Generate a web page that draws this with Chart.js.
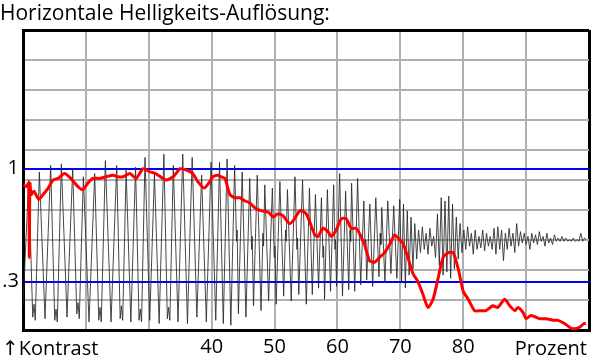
<!DOCTYPE html>
<html>
<head>
<meta charset="utf-8">
<script src="https://cdn.jsdelivr.net/npm/chart.js@4.4.0/dist/chart.umd.min.js"></script>
<style>
    body { margin: 0; background: #fff; }
</style>
</head>
<body>
<canvas id="mtfChart" width="600" height="364"></canvas>
<script>
const chartTitle = 'Horizontale Helligkeits-Auflösung:';
const leftCornerText = '\u2191Kontrast';
const rightCornerText = 'Prozent';
const xTickLabels = [40, 50, 60, 70, 80];
const yTickValues = [0.3, 1];
const yTickLabels = ['.3', '1'];
const xMin = 10, xMax = 100, yMax = 1.86;

const sweepCoarse = [
    [10.0, 0.15], [10.9, 0.93], [11.55, 0.08], [11.75, 0.16], [11.95, 0.06], [12.6, 0.98], [13.5, 0.07],
    [14.4, 1.02], [15.05, 0.06], [15.25, 0.13], [15.45, 0.05], [16.1, 1.03], [17.0, 0.08], [17.9, 1.0],
    [18.55, 0.1], [18.75, 0.17], [18.95, 0.07], [19.6, 0.95], [20.5, 0.05], [21.4, 0.97], [22.05, 0.06],
    [22.25, 0.14], [22.45, 0.05], [23.1, 1.05], [24.0, 0.05], [24.9, 1.02]
];
const sweepMid = [
    [25.45, 0.07], [25.65, 0.15], [25.85, 0.06], [26.4, 0.99], [27.15, 0.05], [27.9, 1.01], [28.45, 0.06],
    [28.65, 0.13], [28.85, 0.05], [29.4, 1.07], [30.15, 0.06], [30.9, 0.97], [31.65, 0.04], [32.4, 1.09],
    [32.95, 0.07], [33.15, 0.14], [33.35, 0.06], [33.9, 1.02], [34.65, 0.05], [35.4, 1.09], [36.15, 0.04],
    [36.9, 1.07], [37.65, 0.08], [38.4, 0.96], [39.15, 0.05], [39.9, 1.04], [40.65, 0.06]
];
const sweepFine = [
    [41.25, 1.04], [41.85, 0.04], [42.45, 1.06], [43.05, 0.03], [43.65, 1.02], [43.95, 0.55], [44.05, 0.62],
    [44.25, 0.1], [44.85, 0.98], [45.45, 0.08], [46.05, 0.94], [46.35, 0.5], [46.45, 0.58], [46.65, 0.15],
    [47.25, 0.96], [47.85, 0.12], [48.15, 0.6], [48.25, 0.52], [48.45, 0.9], [49.05, 0.18], [49.65, 0.88],
    [49.95, 0.45], [50.05, 0.52], [50.25, 0.16], [50.85, 0.92], [51.45, 0.21], [51.75, 0.62], [51.85, 0.55],
    [52.05, 0.87], [52.65, 0.18], [53.25, 0.95], [53.55, 0.5], [53.65, 0.57], [53.85, 0.22], [54.45, 0.93],
    [55.05, 0.16]
];
const sweepFiner = [
    [55.55, 0.88], [56.0, 0.22], [56.5, 0.84], [57.0, 0.26], [57.45, 0.82], [57.7, 0.45], [57.8, 0.52],
    [57.95, 0.19], [58.4, 0.87], [58.9, 0.24], [59.4, 0.9], [59.6, 0.5], [59.7, 0.56], [59.85, 0.27],
    [60.35, 0.97], [60.8, 0.21], [61.3, 0.86], [61.8, 0.25], [62.0, 0.62], [62.1, 0.55], [62.25, 0.91],
    [62.75, 0.24], [63.2, 0.94], [63.7, 0.28], [64.2, 0.8], [64.4, 0.5], [64.5, 0.56], [64.65, 0.31],
    [65.15, 0.78], [65.6, 0.27], [66.1, 0.82], [66.6, 0.33], [66.8, 0.6], [66.9, 0.53], [67.05, 0.76],
    [67.55, 0.3], [68.0, 0.8], [68.5, 0.35], [68.95, 0.77], [69.45, 0.32], [69.9, 0.81]
];
const sweepNoise = [
    [70.2, 0.3], [70.5, 0.78], [70.8, 0.26], [71.1, 0.74], [71.4, 0.34], [71.7, 0.7], [72.0, 0.38],
    [72.3, 0.66], [72.6, 0.44], [72.9, 0.62], [73.2, 0.48], [73.5, 0.64], [73.8, 0.5], [74.1, 0.6],
    [74.4, 0.47], [74.7, 0.63], [75.0, 0.52], [75.3, 0.58], [75.6, 0.45], [75.9, 0.72], [76.2, 0.4],
    [76.5, 0.82], [76.8, 0.34], [77.1, 0.8], [77.4, 0.36], [77.7, 0.83], [78.0, 0.32], [78.3, 0.78],
    [78.6, 0.38], [78.9, 0.7], [79.2, 0.44], [79.5, 0.66], [79.8, 0.48], [80.1, 0.62], [80.4, 0.5],
    [80.7, 0.64], [81.0, 0.52], [81.3, 0.6], [81.6, 0.47], [81.9, 0.62], [82.2, 0.5], [82.5, 0.58],
    [82.8, 0.51], [83.1, 0.62], [83.4, 0.49], [83.7, 0.6], [84.0, 0.52], [84.3, 0.58], [84.6, 0.5],
    [84.9, 0.63], [85.2, 0.47], [85.5, 0.64], [85.8, 0.5], [86.1, 0.62], [86.4, 0.43], [86.7, 0.6],
    [87.0, 0.5], [87.3, 0.63], [87.6, 0.52], [87.9, 0.6], [88.2, 0.48], [88.5, 0.66], [88.8, 0.52],
    [89.1, 0.61], [89.4, 0.54], [89.7, 0.6], [90.0, 0.53], [90.3, 0.58], [90.6, 0.5], [90.9, 0.6],
    [91.2, 0.54], [91.5, 0.59], [91.8, 0.53], [92.1, 0.61], [92.4, 0.55], [92.7, 0.58], [93.0, 0.52],
    [93.3, 0.6], [93.6, 0.54], [93.9, 0.57], [94.2, 0.53], [94.5, 0.59], [94.8, 0.55], [95.1, 0.57],
    [95.4, 0.55], [95.7, 0.58], [96.0, 0.55], [96.3, 0.57], [96.6, 0.55], [96.9, 0.56], [97.2, 0.55],
    [97.5, 0.57], [97.8, 0.55], [98.1, 0.56], [98.4, 0.55], [98.7, 0.6], [99.0, 0.55], [99.3, 0.57],
    [99.6, 0.56]
];

// Kontrastkurve (rot)
const contrastCurve = [
    [10.1, 0.9], [10.5, 0.89], [10.9, 0.91], [11.0, 0.45], [11.1, 0.91], [11.3, 0.84], [11.75, 0.86],
    [12.5, 0.81], [13.2, 0.84], [14.0, 0.88], [14.8, 0.93], [15.6, 0.94], [16.6, 0.97], [17.6, 0.94],
    [18.7, 0.89], [19.5, 0.87], [20.3, 0.91], [21.1, 0.94], [22.2, 0.94], [23.2, 0.95], [24.3, 0.96],
    [25.1, 0.95], [25.9, 0.95], [27.0, 0.97], [28.0, 0.94], [29.1, 1.0], [30.2, 0.98], [31.1, 0.97],
    [32.7, 0.93], [33.9, 0.95], [35.0, 1.0], [36.1, 0.99], [37.0, 0.97], [37.8, 0.92], [38.8, 0.88],
    [39.7, 0.92], [40.2, 0.95], [41.0, 0.96], [41.5, 0.95], [42.1, 0.94], [42.9, 0.84], [43.7, 0.82],
    [44.5, 0.82], [45.3, 0.8], [46.0, 0.79], [46.8, 0.76], [47.8, 0.74], [49.0, 0.73], [49.8, 0.7],
    [50.5, 0.72], [51.3, 0.71], [52.4, 0.66], [53.2, 0.69], [54.0, 0.74], [54.8, 0.73], [55.3, 0.7],
    [56.4, 0.59], [56.9, 0.58], [57.7, 0.63], [58.5, 0.61], [59.0, 0.58], [59.8, 0.62], [60.6, 0.69],
    [61.4, 0.69], [62.2, 0.63], [63.0, 0.63], [64.3, 0.53], [65.1, 0.43], [65.9, 0.42], [66.7, 0.45],
    [67.5, 0.48], [68.3, 0.53], [69.1, 0.59], [69.9, 0.56], [70.4, 0.54], [71.2, 0.45], [72.0, 0.35],
    [72.8, 0.3], [73.6, 0.22], [74.4, 0.14], [75.2, 0.19], [76.0, 0.32], [76.8, 0.45], [77.6, 0.48],
    [78.4, 0.48], [79.2, 0.38], [80.0, 0.24], [80.8, 0.19], [81.8, 0.12], [82.8, 0.12], [83.6, 0.12],
    [84.7, 0.15], [85.5, 0.14], [86.6, 0.19], [87.4, 0.15], [88.2, 0.12], [88.7, 0.14], [89.5, 0.11],
    [90.0, 0.07], [90.8, 0.09], [92.2, 0.07], [93.2, 0.07], [94.3, 0.06], [95.1, 0.06], [96.1, 0.04],
    [97.2, 0.01], [98.0, 0.01], [98.6, 0.02], [99.2, 0.04], [99.5, 0.04]
];

const fontFamily = '"Open Sans", "DejaVu Sans", sans-serif';
const toPoints = pairs => pairs.map(([x, y]) => ({x, y}));
const sweep = [].concat(sweepCoarse, sweepMid, sweepFine, sweepFiner, sweepNoise);

const isEdge = (v, lo, hi) => Math.abs(v - lo) < 1e-6 || Math.abs(v - hi) < 1e-6;
const isMarker = v => yTickValues.some(t => Math.abs(v - t) < 1e-6);

// "↑Kontrast" links und "Prozent" rechts unter der Achse
const cornerLabels = {
    id: 'cornerLabels',
    afterDraw(chart) {
        const ctx = chart.ctx;
        ctx.save();
        ctx.font = '20px ' + fontFamily;
        ctx.fillStyle = '#000';
        ctx.textBaseline = 'alphabetic';
        ctx.textAlign = 'left';
        ctx.fillText(leftCornerText, 2, 355);
        ctx.textAlign = 'right';
        ctx.fillText(rightCornerText, chart.chartArea.right - 2, 355);
        ctx.restore();
    }
};

new Chart(document.getElementById('mtfChart'), {
    type: 'line',
    data: {
        datasets: [{
            data: toPoints(contrastCurve),
            borderColor: '#ff0000',
            borderWidth: 3,
            pointRadius: 0,
            tension: 0.2,
            order: 1
        }, {
            data: toPoints(sweep),
            borderColor: 'rgba(40, 40, 40, 0.85)',
            borderWidth: 1,
            pointRadius: 0,
            tension: 0,
            order: 2
        }]
    },
    options: {
        responsive: false,
        animation: false,
        devicePixelRatio: 1,
        layout: { padding: { left: 0, right: 11, top: 0, bottom: 0 } },
        plugins: {
            legend: { display: false },
            tooltip: { enabled: false },
            title: {
                display: true,
                text: chartTitle,
                align: 'start',
                color: '#000',
                font: { family: fontFamily, size: 21, weight: 'normal', lineHeight: 1.2 },
                padding: { top: 1, bottom: 3.8 }
            }
        },
        scales: {
            x: {
                type: 'linear',
                min: xMin,
                max: xMax,
                afterFit(scale) { scale.height = 34; },
                ticks: {
                    stepSize: 10,
                    autoSkip: false,
                    maxRotation: 0,
                    padding: 5,
                    color: '#000',
                    font: { family: fontFamily, size: 20 },
                    callback: v => xTickLabels.includes(v) ? String(v) : ''
                },
                grid: {
                    drawTicks: false,
                    color: ctx => isEdge(ctx.tick.value, xMin, xMax) ? '#000' : '#b0b0b0',
                    lineWidth: ctx => isEdge(ctx.tick.value, xMin, xMax) ? 3 : 2
                },
                border: { color: '#000', width: 3 }
            },
            y: {
                min: 0,
                max: yMax,
                afterFit(scale) { scale.width = 23; },
                afterBuildTicks(scale) {
                    const vals = [];
                    for (let i = 0; i <= 10; i++) vals.push(+(i * yMax / 10).toFixed(4));
                    scale.ticks = vals.concat(yTickValues).sort((a, b) => a - b).map(v => ({value: v}));
                },
                ticks: {
                    autoSkip: false,
                    padding: 4,
                    color: '#000',
                    font: { family: fontFamily, size: 20 },
                    callback: v => {
                        const i = yTickValues.findIndex(t => Math.abs(t - v) < 1e-6);
                        return i >= 0 ? yTickLabels[i] : '';
                    }
                },
                grid: {
                    drawTicks: false,
                    color: ctx => isMarker(ctx.tick.value) ? '#0000ff'
                        : (isEdge(ctx.tick.value, 0, yMax) ? '#000' : '#b0b0b0'),
                    lineWidth: ctx => isEdge(ctx.tick.value, 0, yMax) ? 3 : 2
                },
                border: { color: '#000', width: 3 }
            }
        }
    },
    plugins: [cornerLabels]
});
</script>
</body>
</html>
